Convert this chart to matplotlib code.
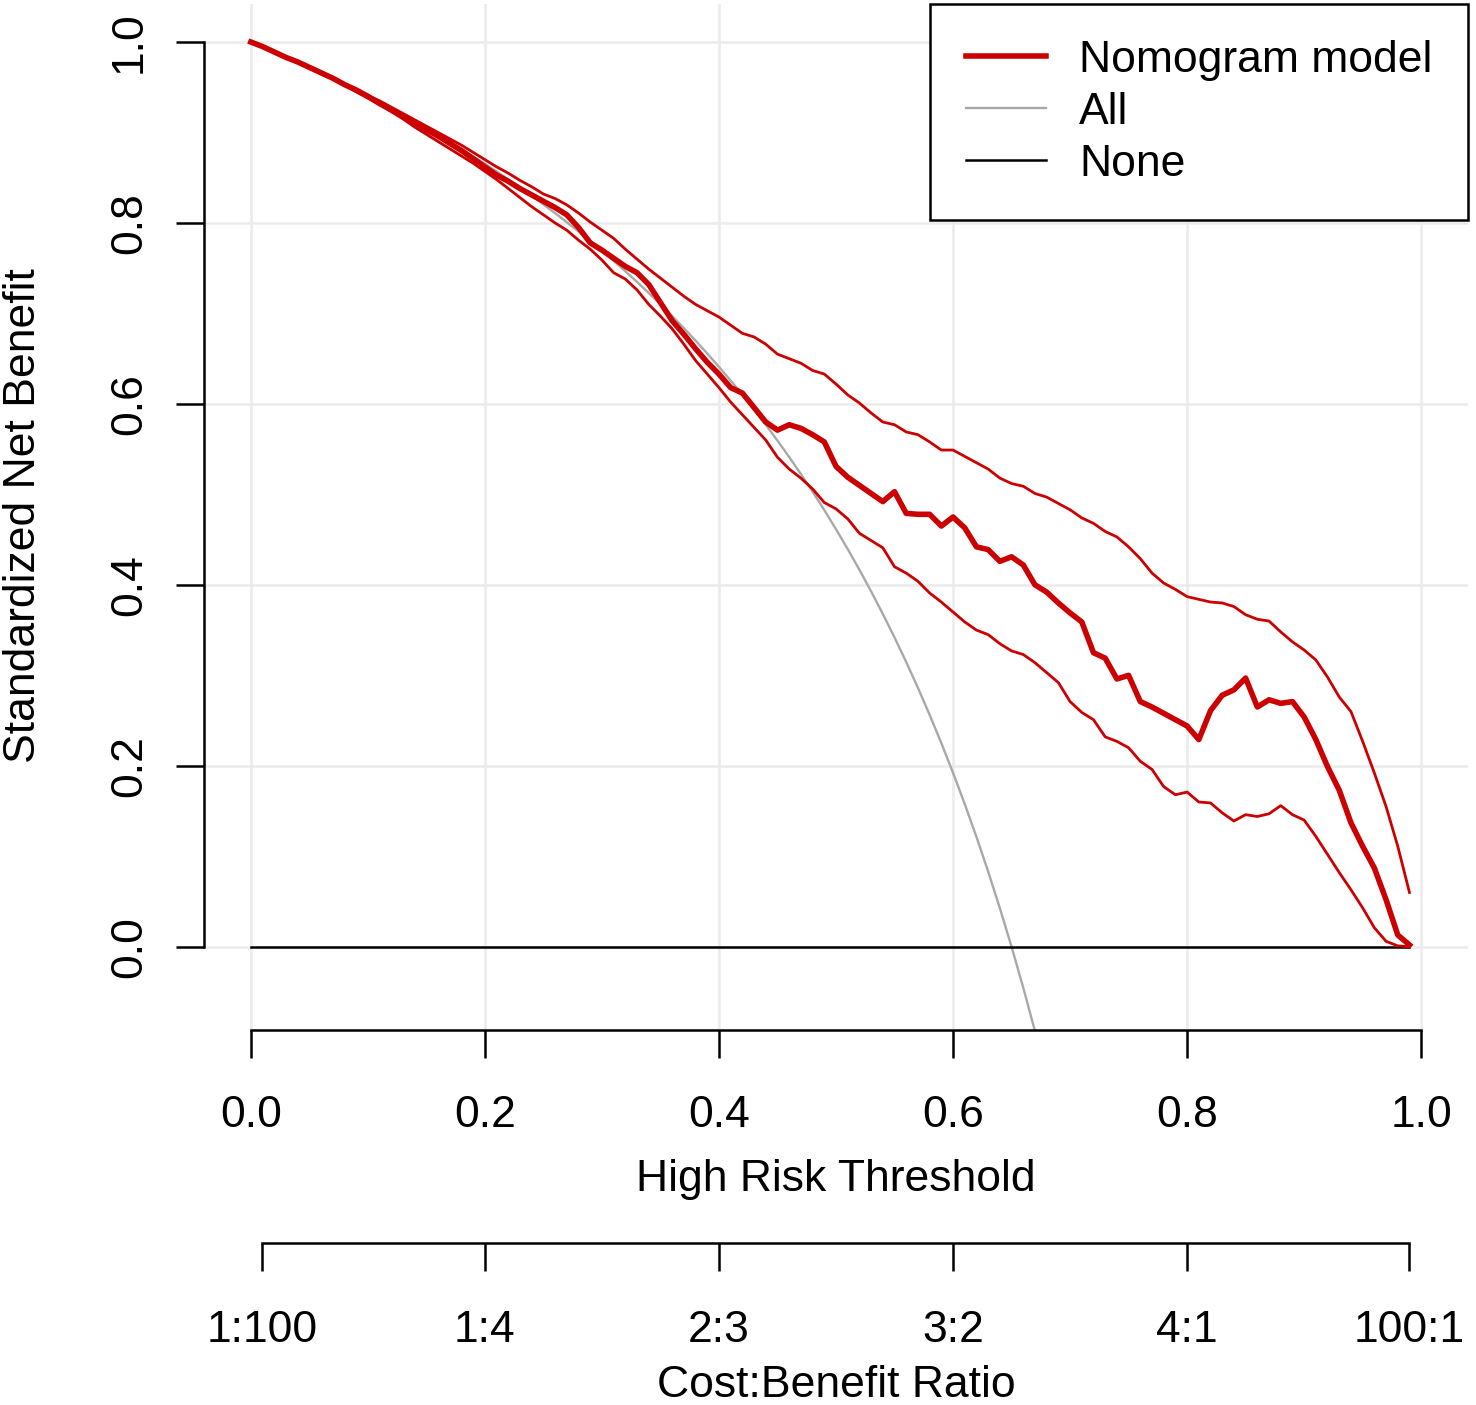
import numpy as np
import matplotlib
matplotlib.use("Agg")
import matplotlib.pyplot as plt

plt.rcParams['font.family'] = ['Liberation Sans', 'DejaVu Sans']

# decision curve data, thresholds 0.00 .. 0.99
thresholds = [i / 100 for i in range(100)]

nomogram = [1.000, 0.995, 0.989, 0.983, 0.978, 0.972, 0.966, 0.960, 0.953, 0.947,
            0.940, 0.932, 0.925, 0.918, 0.911, 0.903, 0.896, 0.888, 0.880, 0.871,
            0.862, 0.853, 0.846, 0.838, 0.831, 0.824, 0.817, 0.809, 0.795, 0.778,
            0.770, 0.761, 0.752, 0.745, 0.732, 0.712, 0.692, 0.677, 0.661, 0.646,
            0.633, 0.618, 0.612, 0.596, 0.580, 0.571, 0.577, 0.573, 0.566, 0.558,
            0.531, 0.519, 0.510, 0.501, 0.492, 0.503, 0.479, 0.478, 0.478, 0.465,
            0.475, 0.463, 0.442, 0.439, 0.426, 0.431, 0.422, 0.400, 0.392, 0.380,
            0.369, 0.359, 0.325, 0.319, 0.296, 0.300, 0.271, 0.265, 0.258, 0.251,
            0.244, 0.229, 0.261, 0.278, 0.284, 0.297, 0.265, 0.273, 0.269, 0.271,
            0.254, 0.229, 0.199, 0.173, 0.137, 0.111, 0.087, 0.052, 0.013, 0.002]

nomogram_upper = [1.000, 0.995, 0.989, 0.983, 0.978, 0.972, 0.966, 0.960, 0.953, 0.948,
                  0.941, 0.935, 0.928, 0.921, 0.914, 0.907, 0.900, 0.893, 0.886, 0.878,
                  0.870, 0.862, 0.855, 0.847, 0.840, 0.832, 0.827, 0.820, 0.811, 0.801,
                  0.792, 0.783, 0.771, 0.760, 0.749, 0.739, 0.729, 0.719, 0.710, 0.703,
                  0.696, 0.687, 0.678, 0.674, 0.666, 0.655, 0.650, 0.645, 0.637, 0.633,
                  0.622, 0.610, 0.601, 0.590, 0.580, 0.577, 0.569, 0.566, 0.558, 0.549,
                  0.549, 0.542, 0.535, 0.528, 0.518, 0.512, 0.509, 0.501, 0.497, 0.490,
                  0.483, 0.474, 0.468, 0.459, 0.453, 0.442, 0.429, 0.413, 0.402, 0.395,
                  0.387, 0.384, 0.381, 0.380, 0.376, 0.367, 0.362, 0.360, 0.348, 0.337,
                  0.328, 0.317, 0.298, 0.276, 0.260, 0.227, 0.192, 0.155, 0.111, 0.060]

nomogram_lower = [1.000, 0.995, 0.989, 0.983, 0.977, 0.971, 0.965, 0.959, 0.952, 0.945,
                  0.938, 0.931, 0.923, 0.915, 0.906, 0.898, 0.890, 0.882, 0.874, 0.866,
                  0.857, 0.848, 0.838, 0.828, 0.818, 0.809, 0.800, 0.792, 0.781, 0.771,
                  0.759, 0.745, 0.738, 0.726, 0.710, 0.697, 0.683, 0.666, 0.648, 0.633,
                  0.618, 0.602, 0.588, 0.574, 0.560, 0.541, 0.528, 0.518, 0.506, 0.491,
                  0.484, 0.473, 0.457, 0.449, 0.441, 0.420, 0.413, 0.404, 0.391, 0.381,
                  0.370, 0.359, 0.350, 0.345, 0.335, 0.327, 0.323, 0.314, 0.303, 0.292,
                  0.271, 0.259, 0.251, 0.232, 0.227, 0.220, 0.205, 0.196, 0.177, 0.168,
                  0.171, 0.160, 0.159, 0.148, 0.139, 0.146, 0.144, 0.147, 0.156, 0.146,
                  0.140, 0.122, 0.102, 0.082, 0.063, 0.043, 0.021, 0.006, 0.001, 0.000]

# "All" curve, only drawn down to the bottom of the panel
all_thresholds = thresholds[:68]
all_benefit = [1.0000, 0.9946, 0.9890, 0.9833, 0.9776, 0.9717, 0.9656, 0.9595, 0.9532, 0.9467,
               0.9402, 0.9334, 0.9266, 0.9195, 0.9123, 0.9050, 0.8974, 0.8897, 0.8818, 0.8737,
               0.8654, 0.8569, 0.8481, 0.8392, 0.8300, 0.8205, 0.8108, 0.8008, 0.7906, 0.7801,
               0.7692, 0.7581, 0.7466, 0.7348, 0.7226, 0.7101, 0.6971, 0.6838, 0.6700, 0.6557,
               0.6410, 0.6258, 0.6101, 0.5938, 0.5769, 0.5594, 0.5413, 0.5225, 0.5030, 0.4827,
               0.4615, 0.4396, 0.4167, 0.3928, 0.3679, 0.3419, 0.3147, 0.2862, 0.2564, 0.2251,
               0.1923, 0.1578, 0.1215, 0.0832, 0.0427, 0.0000, -0.0452, -0.0932]

none_benefit = [0.0] * len(thresholds)

x_ticks = [0.0, 0.2, 0.4, 0.6, 0.8, 1.0]
y_ticks = [0.0, 0.2, 0.4, 0.6, 0.8, 1.0]
cb_ticks = [0.0099, 0.2, 0.4, 0.6, 0.8, 0.99]
cb_labels = ['1:100', '1:4', '2:3', '3:2', '4:1', '100:1']

red = '#CC0000'
fs = 32

fig = plt.figure(figsize=(14.76, 14.05), dpi=100)
ax = fig.add_axes([0.13821, 0.26690, 0.85637, 0.73025])

ax.plot(all_thresholds, all_benefit, color='#A8A8A8', lw=1.7, label='All')
ax.plot(thresholds, none_benefit, color='black', lw=1.8, label='None')
ax.plot(thresholds, nomogram_upper, color=red, lw=2.0)
ax.plot(thresholds, nomogram_lower, color=red, lw=2.0)
ax.plot(thresholds, nomogram, color=red, lw=4.0, label='Nomogram model')

ax.set_xlim(-0.04, 1.04)
ax.set_ylim(-0.092, 1.042)
ax.set_xticks(x_ticks)
ax.set_yticks(y_ticks)
ax.set_xticklabels(['%.1f' % v for v in x_ticks])
ax.set_yticklabels(['%.1f' % v for v in y_ticks], rotation=90, va='center')
ax.grid(True, color='#EBEBEB', lw=1.8)
ax.set_axisbelow(True)

for side in ['top', 'right']:
    ax.spines[side].set_visible(False)
ax.spines['left'].set_bounds(0, 1)
ax.spines['bottom'].set_bounds(0, 1)
ax.spines['left'].set_linewidth(1.8)
ax.spines['bottom'].set_linewidth(1.8)
ax.tick_params(axis='x', length=20, width=1.8, pad=27, labelsize=fs)
ax.tick_params(axis='y', length=20, width=1.8, pad=19, labelsize=fs)

handles, labels = ax.get_legend_handles_labels()
order = [2, 0, 1]
leg = ax.legend([handles[i] for i in order], [labels[i] for i in order],
                loc='upper right', bbox_to_anchor=(1.0, 1.0), fontsize=fs,
                frameon=True, fancybox=False, edgecolor='black', framealpha=1,
                borderaxespad=0, borderpad=0.8, labelspacing=0.25,
                handlelength=1.8, handletextpad=0.75)
leg.get_frame().set_linewidth(1.8)

# second axis: cost:benefit ratio
ax2 = fig.add_axes([0.13821, (1405 - 1243) / 1405, 0.85637, 0.0001])
ax2.set_xlim(-0.04, 1.04)
ax2.set_yticks([])
ax2.patch.set_visible(False)
for side in ['top', 'right', 'left']:
    ax2.spines[side].set_visible(False)
ax2.spines['bottom'].set_bounds(cb_ticks[0], cb_ticks[-1])
ax2.spines['bottom'].set_linewidth(1.8)
ax2.set_xticks(cb_ticks)
ax2.set_xticklabels(cb_labels)
ax2.tick_params(axis='x', length=20, width=1.8, pad=28, labelsize=fs)

fig.text(836 / 1476, 1 - 1191 / 1405, 'High Risk Threshold', fontsize=fs,
         ha='center', va='baseline')
fig.text(836 / 1476, 1 - 1397 / 1405, 'Cost:Benefit Ratio', fontsize=fs,
         ha='center', va='baseline')
fig.text(24 / 1476, 1 - 516 / 1405, 'Standardized Net Benefit', fontsize=fs,
         ha='center', va='center', rotation=90)

fig.savefig('out.png', dpi=100)
